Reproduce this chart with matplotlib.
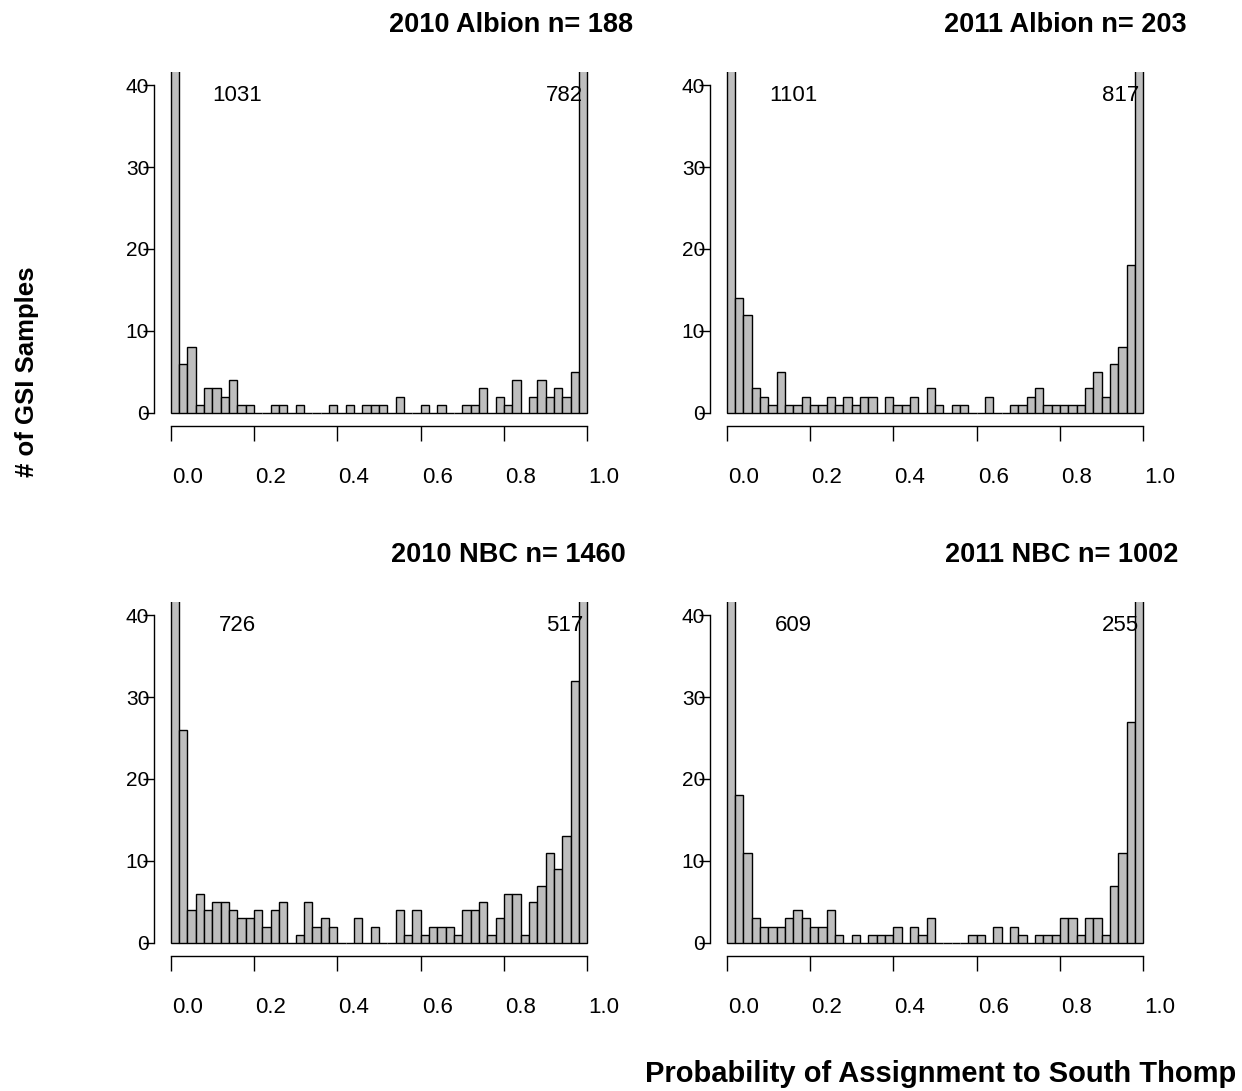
import matplotlib
matplotlib.use('Agg')
import matplotlib.pyplot as plt
import numpy as np

plt.rcParams['font.family'] = ['Liberation Sans', 'DejaVu Sans']

# counts per 0.02 bin (50 bins from 0 to 1); first/last bins are clipped and labelled
alb2010 = [1031, 6, 8, 1, 3, 3, 2, 4, 1, 1,
           0, 0, 1, 1, 0, 1, 0, 0, 0, 1,
           0, 1, 0, 1, 1, 1, 0, 2, 0, 0,
           1, 0, 1, 0, 0, 1, 1, 3, 0, 2,
           1, 4, 0, 2, 4, 2, 3, 2, 5, 782]
alb2011 = [1101, 14, 12, 3, 2, 1, 5, 1, 1, 2,
           1, 1, 2, 1, 2, 1, 2, 2, 0, 2,
           1, 1, 2, 0, 3, 1, 0, 1, 1, 0,
           0, 2, 0, 0, 1, 1, 2, 3, 1, 1,
           1, 1, 1, 3, 5, 2, 6, 8, 18, 817]
nbc2010 = [726, 26, 4, 6, 4, 5, 5, 4, 3, 3,
           4, 2, 4, 5, 0, 1, 5, 2, 3, 2,
           0, 0, 3, 0, 2, 0, 0, 4, 1, 4,
           1, 2, 2, 2, 1, 4, 4, 5, 1, 3,
           6, 6, 1, 5, 7, 11, 9, 13, 32, 517]
nbc2011 = [609, 18, 11, 3, 2, 2, 2, 3, 4, 3,
           2, 2, 4, 1, 0, 1, 0, 1, 1, 1,
           2, 0, 2, 1, 3, 0, 0, 0, 0, 1,
           1, 0, 2, 0, 2, 1, 0, 1, 1, 1,
           3, 3, 1, 3, 3, 1, 7, 11, 27, 255]

titles = ['2010 Albion n= 188', '2011 Albion n= 203',
          '2010 NBC n= 1460', '2011 NBC n= 1002']
xticks = [0.0, 0.2, 0.4, 0.6, 0.8, 1.0]
yticks = [0, 10, 20, 30, 40]

W, H = 1242, 1091
edges = np.linspace(0, 1, 51)

fig = plt.figure(figsize=(W / 100, H / 100), dpi=100)

# pixel boxes: (left, top) of plot region, and title centre / baseline
boxes = [(154, 72, 511, 32), (710, 72, 1065, 32),
         (154, 602, 508, 562), (710, 602, 1062, 562)]
data = [alb2010, alb2011, nbc2010, nbc2011]

for counts, title, (px, py, tx, ty) in zip(data, titles, boxes):
    ax = fig.add_axes([px / W, 1 - (py + 354) / H, 450 / W, 354 / H])
    ax.bar(edges[:-1], counts, width=0.02, align='edge', color='#bebebe',
           edgecolor='black', linewidth=1.0)
    ax.set_xlim(-0.04, 1.04)
    ax.set_ylim(-1.6, 41.6)
    for s in ['top', 'right']:
        ax.spines[s].set_visible(False)
    ax.spines['left'].set_bounds(0, 40)
    ax.spines['bottom'].set_bounds(0, 1)
    ax.spines['left'].set_linewidth(1.0)
    ax.spines['bottom'].set_linewidth(1.0)
    ax.set_yticks(yticks)
    ax.tick_params(axis='y', length=8, width=1.0, pad=-4.5, labelsize=15)
    ax.set_xticks(xticks)
    ax.set_xticklabels([])
    ax.tick_params(axis='x', length=11, width=1.0)
    # x labels sit a bit right of their ticks
    for t in xticks:
        ax.text(t + 0.04, -8.6, '%.1f' % t, ha='center', va='baseline',
                fontsize=16, clip_on=False)
    ax.text(0.16, 38.05, str(counts[0]), ha='center', va='baseline', fontsize=16)
    ax.text(0.945, 38.05, str(counts[-1]), ha='center', va='baseline', fontsize=16)
    fig.text(tx / W, 1 - ty / H, title, ha='center', va='baseline',
             fontsize=19.5, fontweight='bold')

fig.text(27 / W, 1 - 371.5 / H, '# of GSI Samples', rotation=90, ha='center',
         va='center', fontsize=18.5, fontweight='bold')
fig.text(645 / W, 1 - 1081.7 / H, 'Probability of Assignment to South Thomp',
         ha='left', va='baseline', fontsize=21, fontweight='bold')

fig.savefig('out.png', dpi=100)
